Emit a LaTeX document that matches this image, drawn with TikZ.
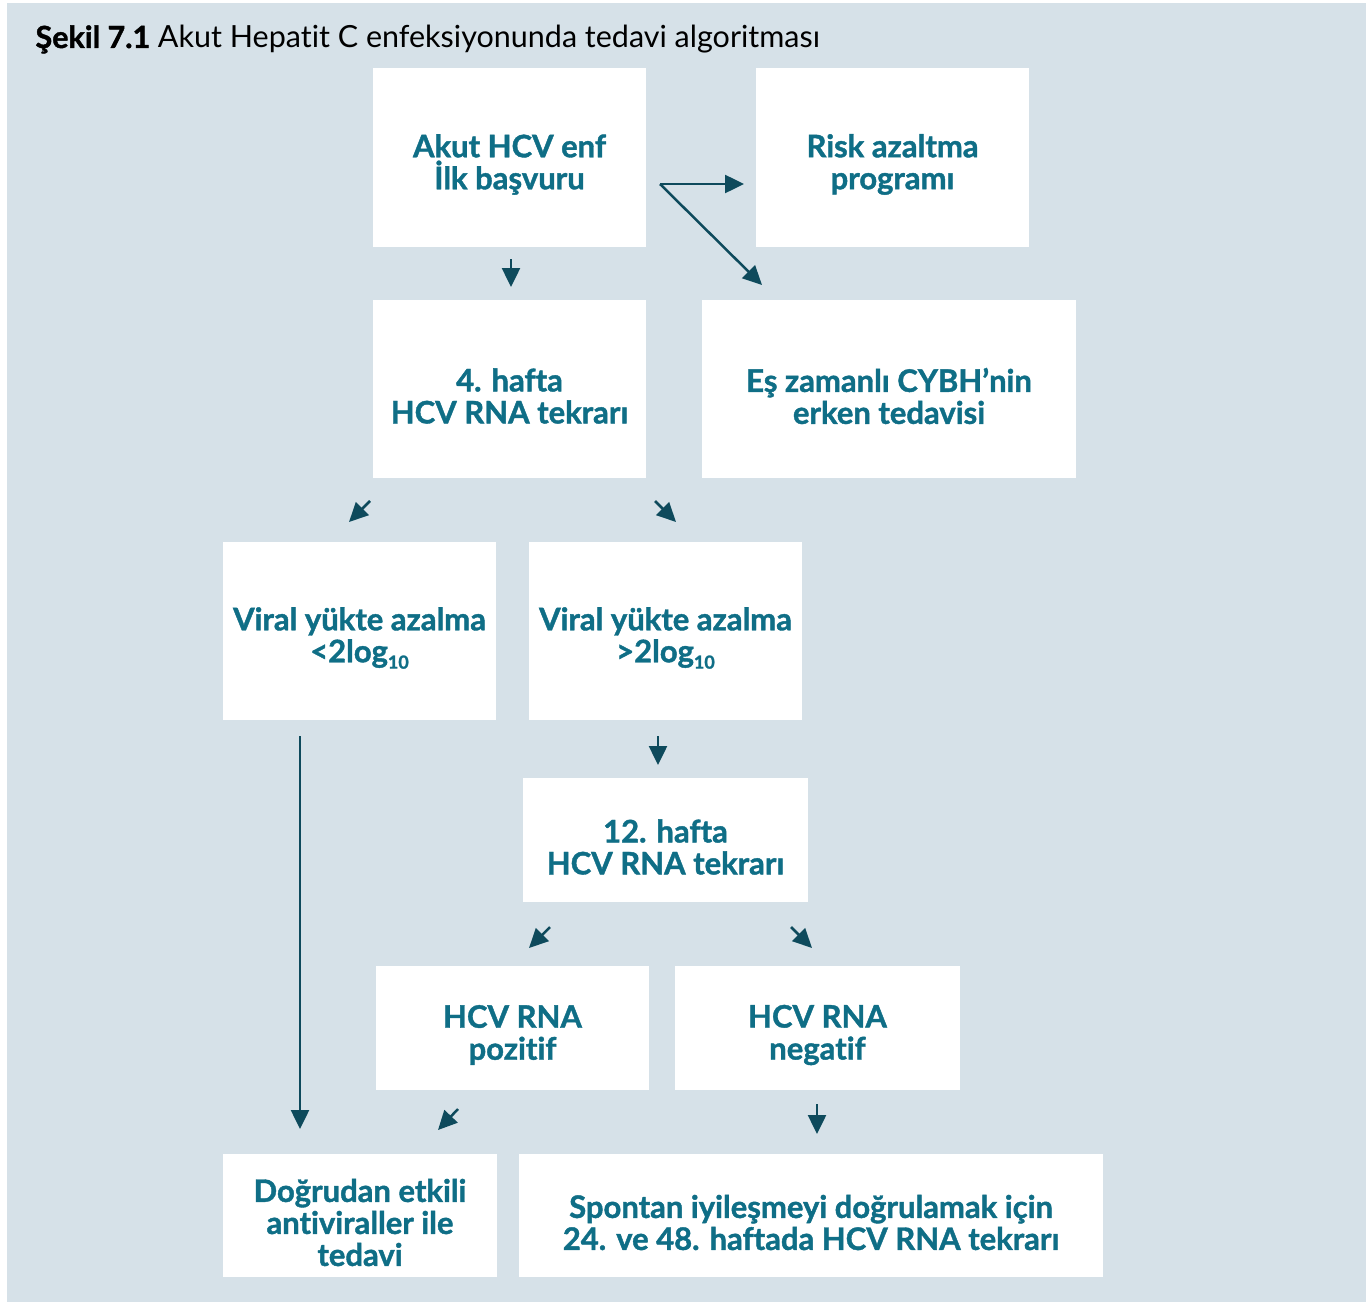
\documentclass[tikz,border=0pt]{standalone}
\usepackage{fontspec}
\setmainfont[Ligatures=NoCommon, BoldFeatures={FakeBold=1.3}]{Lato}
\usetikzlibrary{arrows.meta}

\definecolor{bgblue}{HTML}{D6E1E8}
\definecolor{boxtext}{HTML}{0F6E86}
\definecolor{arrowcol}{HTML}{0E4A5C}

\tikzset{
  stepbox/.style={fill=white, draw=none, inner sep=0pt},
  steptext/.style={align=center, text=boxtext, yshift=-7pt,
    font=\fontsize{31}{32}\selectfont\bfseries, inner sep=0pt},
  arr/.style={draw=arrowcol, line width=2.5pt,
    -{Triangle[length=19pt,width=18pt]}}
}
\newcommand{\subten}{\raisebox{-0.4ex}{\fontsize{18}{18}\selectfont 10}}

\begin{document}
\begin{tikzpicture}[x=1pt,y=-1pt]
  \useasboundingbox (0,0) rectangle (1370,1303);
  \fill[bgblue] (7,3) rectangle (1366,1302);

  \node[anchor=base west, font=\fontsize{30.5}{33}\selectfont] (title) at (32,48)
    {\textbf{Şekil 7.1} Akut Hepatit C enfeksiyonunda tedavi algoritması};

  % boxes
  \node[stepbox, minimum width=273pt, minimum height=179pt,
    label={[steptext]center:{Akut HCV enf\\İlk başvuru}}] (akut) at (509.5,157.5) {};
  \node[stepbox, minimum width=273pt, minimum height=179pt,
    label={[steptext]center:{Risk azaltma\\programı}}] (risk) at (892.5,157.5) {};
  \node[stepbox, minimum width=273pt, minimum height=178pt,
    label={[steptext]center:{4. hafta\\HCV RNA tekrarı}}] (hafta4) at (509.5,389) {};
  \node[stepbox, minimum width=374pt, minimum height=178pt,
    label={[steptext]center:{Eş zamanlı CYBH’nin\\erken tedavisi}}] (eszaman) at (889,389) {};
  \node[stepbox, minimum width=273pt, minimum height=178pt,
    label={[steptext]center:{Viral yükte azalma\\<2log\subten}}] (viralA) at (359.5,631) {};
  \node[stepbox, minimum width=273pt, minimum height=178pt,
    label={[steptext]center:{Viral yükte azalma\\>2log\subten}}] (viralB) at (665.5,631) {};
  \node[stepbox, minimum width=285pt, minimum height=124pt,
    label={[steptext]center:{12. hafta\\HCV RNA tekrarı}}] (hafta12) at (665.5,840) {};
  \node[stepbox, minimum width=273pt, minimum height=124pt,
    label={[steptext]center:{HCV RNA\\pozitif}}] (pozitif) at (512.5,1028) {};
  \node[stepbox, minimum width=285pt, minimum height=124pt,
    label={[steptext]center:{HCV RNA\\negatif}}] (negatif) at (817.5,1028) {};
  \node[stepbox, minimum width=274pt, minimum height=123pt,
    label={[steptext]center:{Doğrudan etkili\\antiviraller ile\\tedavi}}] (daa) at (360,1215.5) {};
  \node[stepbox, minimum width=584pt, minimum height=123pt,
    label={[steptext]center:{Spontan iyileşmeyi doğrulamak için\\24. ve 48. haftada HCV RNA tekrarı}}] (spontan) at (811,1215.5) {};

  % arrow ends
  \coordinate (a1s) at (511,259);  \coordinate (a1e) at (511,287);
  \coordinate (fork) at (660,184);
  \coordinate (a2e) at (744,184);  \coordinate (a3e) at (762,285);
  \coordinate (a4s) at (370,501);  \coordinate (a4e) at (349,522);
  \coordinate (a5s) at (655,501);  \coordinate (a5e) at (676,522);
  \coordinate (a6s) at (658,736);  \coordinate (a6e) at (658,765);
  \coordinate (a7s) at (300,736);  \coordinate (a7e) at (300,1129);
  \coordinate (a8s) at (550,927);  \coordinate (a8e) at (529,948);
  \coordinate (a9s) at (791,927);  \coordinate (a9e) at (812,948);
  \coordinate (a10s) at (458,1109); \coordinate (a10e) at (438,1130);
  \coordinate (a11s) at (817,1104); \coordinate (a11e) at (817,1134);

  % arrows
  \draw[arr] (a1s) -- (a1e);
  \draw[arr] (fork) -- (a2e);
  \draw[arr] (fork) -- (a3e);
  \draw[arr] (a4s) -- (a4e);
  \draw[arr] (a5s) -- (a5e);
  \draw[arr] (a6s) -- (a6e);
  \draw[arr] (a7s) -- (a7e);
  \draw[arr] (a8s) -- (a8e);
  \draw[arr] (a9s) -- (a9e);
  \draw[arr] (a10s) -- (a10e);
  \draw[arr] (a11s) -- (a11e);
\end{tikzpicture}
\end{document}
